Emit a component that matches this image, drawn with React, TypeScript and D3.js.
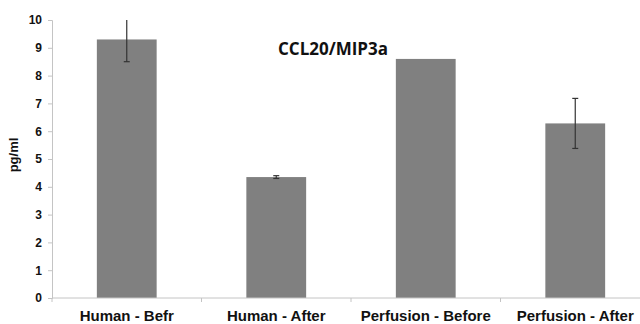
import React, { useEffect, useRef } from "react";
import * as d3 from "d3";

const categories = ["Human - Befr", "Human - After", "Perfusion - Before", "Perfusion - After"];
const values = [9.3, 4.35, 8.6, 6.28];
const errors = [0.8, 0.05, 0, 0.9];
const yTicks = [0, 1, 2, 3, 4, 5, 6, 7, 8, 9, 10];

const App = () => {
  const svgRef = useRef<SVGSVGElement>(null);

  useEffect(() => {
    const width = 640;
    const height = 324;
    const margin = { top: 20, right: -10, bottom: 26, left: 52 };

    const svg = d3.select(svgRef.current);
    svg.selectAll("*").remove();

    const x = d3.scaleBand()
      .domain(categories)
      .range([margin.left, width - margin.right])
      .paddingInner(0.6)
      .paddingOuter(0.3);

    const y = d3.scaleLinear()
      .domain([0, 10])
      .range([height - margin.bottom, margin.top]);

    // bars
    svg.selectAll("rect.bar")
      .data(categories)
      .enter()
      .append("rect")
      .attr("class", "bar")
      .attr("x", d => x(d))
      .attr("width", x.bandwidth())
      .attr("y", (d, i) => y(values[i]))
      .attr("height", (d, i) => y(0) - y(values[i]))
      .attr("fill", "#808080");

    // y axis
    const yAxis = d3.axisLeft(y).tickValues(yTicks).tickSize(4).tickPadding(6);
    const gy = svg.append("g")
      .attr("transform", `translate(${margin.left},0)`)
      .call(yAxis);
    gy.select(".domain").attr("stroke", "#c4c4c4");
    gy.selectAll(".tick line").attr("stroke", "#c4c4c4");
    gy.selectAll("text")
      .style("font-family", "Liberation Sans, Arial, sans-serif")
      .style("font-size", "12px")
      .style("font-weight", "bold")
      .attr("fill", "#111");

    // x axis
    const step = x.step();
    const x0 = margin.left;
    const gx = svg.append("g");
    gx.append("line")
      .attr("x1", x0).attr("x2", width)
      .attr("y1", y(0)).attr("y2", y(0))
      .attr("stroke", "#c4c4c4");
    categories.forEach((c, i) => {
      const bx = x0 + step * i;
      gx.append("line")
        .attr("x1", bx).attr("x2", bx)
        .attr("y1", y(0)).attr("y2", y(0) + 4)
        .attr("stroke", "#c4c4c4");
      gx.append("text")
        .attr("x", (x(c) as number) + x.bandwidth() / 2)
        .attr("y", y(0) + 23)
        .attr("text-anchor", "middle")
        .style("font-family", "Liberation Sans, Arial, sans-serif")
        .style("font-size", "15px")
        .style("font-weight", "bold")
        .attr("fill", "#111")
        .text(c);
    });

    // error bars
    categories.forEach((c, i) => {
      if (!errors[i]) return;
      const cx = (x(c) as number) + x.bandwidth() / 2;
      const hi = Math.min(values[i] + errors[i], 10);
      const lo = values[i] - errors[i];
      svg.append("line")
        .attr("x1", cx).attr("x2", cx)
        .attr("y1", y(hi)).attr("y2", y(lo))
        .attr("stroke", "#333").attr("stroke-width", 1.2);
      const caps = values[i] + errors[i] > 10 ? [lo] : [hi, lo];
      caps.forEach(v => {
        svg.append("line")
          .attr("x1", cx - 3).attr("x2", cx + 3)
          .attr("y1", y(v)).attr("y2", y(v))
          .attr("stroke", "#333").attr("stroke-width", 1.2);
      });
    });

    // y label
    svg.append("text")
      .attr("transform", `translate(18, 155) rotate(-90)`)
      .attr("text-anchor", "middle")
      .style("font-family", "Liberation Sans, Arial, sans-serif")
      .style("font-size", "13px")
      .style("font-weight", "bold")
      .attr("fill", "#111")
      .text("pg/ml");

    // title
    svg.append("text")
      .attr("x", 333)
      .attr("y", 55)
      .attr("text-anchor", "middle")
      .style("font-family", "Open Sans, sans-serif")
      .style("font-size", "17px")
      .style("font-weight", "bold")
      .attr("fill", "#111")
      .text("CCL20/MIP3a");
  }, []);

  return (
    <div style={{ position: "fixed", top: 0, left: 0, width: 640, height: 324, background: "#fff" }}>
      <svg ref={svgRef} width={640} height={324} style={{ display: "block" }}></svg>
    </div>
  );
};

export default App;
